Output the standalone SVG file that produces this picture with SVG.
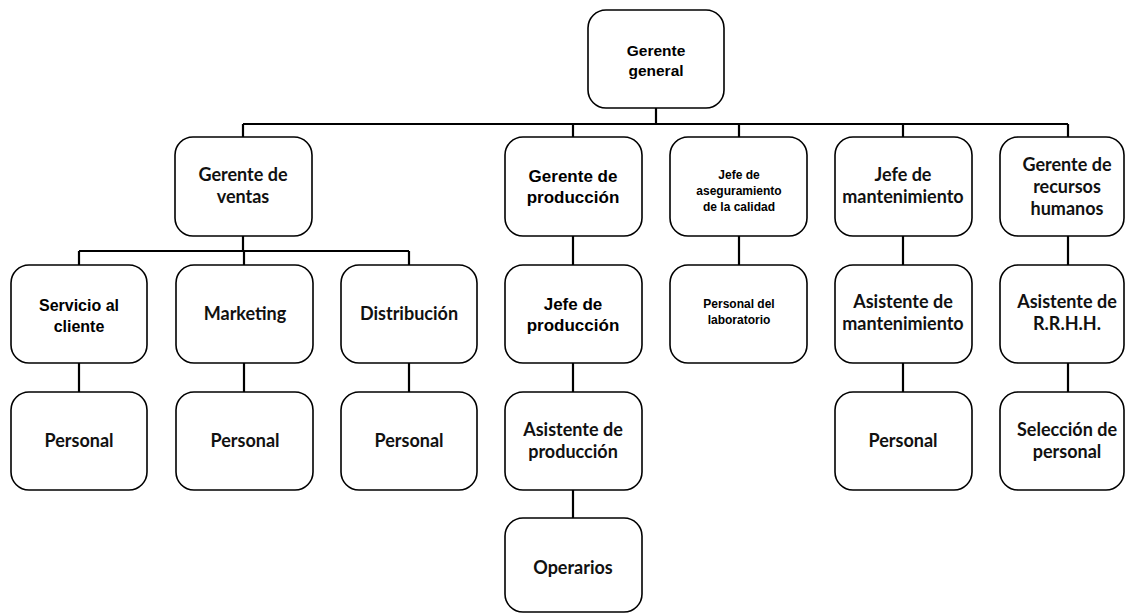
<svg xmlns="http://www.w3.org/2000/svg" width="1126" height="614" viewBox="0 0 1126 614">
  <style>
    .box { fill: #ffffff; stroke: #000000; stroke-width: 1.6; }
    .line { fill: none; stroke: #000000; stroke-width: 2.2; }
    .a { font-family: "Liberation Sans", Arial, sans-serif; font-weight: bold; fill: #000; text-anchor: middle; }
    .c { font-family: Lato, "Open Sans", sans-serif; font-weight: bold; fill: #111; text-anchor: middle; font-size: 18px; }
  </style>
  <rect width="1126" height="614" fill="#ffffff"/>

  <g id="connectors">
    <path class="line" d="M656 108 V124 M243 124 H1068 M243 124 V137 M573 124 V137 M739 124 V137 M903 124 V137 M1068 124 V137"/>
    <path class="line" d="M243 236 V251 M79 251 H409 M79 251 V265 M244 251 V265 M409 251 V265"/>
    <path class="line" d="M79 363 V392 M244 363 V392 M409 363 V392"/>
    <path class="line" d="M573 236 V265 M573 363 V392 M573 490 V518"/>
    <path class="line" d="M739 236 V265"/>
    <path class="line" d="M903 236 V265 M903 363 V392"/>
    <path class="line" d="M1068 236 V265 M1068 363 V392"/>
  </g>

  <g id="gerente-general">
    <rect class="box" x="588" y="10" width="136" height="98" rx="18"/>
    <text class="a" font-size="15.5" x="656" y="56">Gerente</text>
    <text class="a" font-size="15.5" x="656" y="76">general</text>
  </g>

  <g id="gerente-ventas">
    <rect class="box" x="175" y="137" width="137" height="99" rx="18"/>
    <text class="c" x="243" y="181">Gerente de</text>
    <text class="c" x="243" y="203">ventas</text>
  </g>

  <g id="gerente-produccion">
    <rect class="box" x="505" y="137" width="137" height="99" rx="18"/>
    <text class="a" font-size="17" x="573" y="182">Gerente de</text>
    <text class="a" font-size="17" x="573" y="203">producción</text>
  </g>

  <g id="jefe-calidad">
    <rect class="box" x="670" y="137" width="137" height="99" rx="18"/>
    <text class="a" font-size="12" x="739" y="179">Jefe de</text>
    <text class="a" font-size="12" x="739" y="195">aseguramiento</text>
    <text class="a" font-size="12" x="739" y="211">de la calidad</text>
  </g>

  <g id="jefe-mantenimiento">
    <rect class="box" x="835" y="137" width="137" height="99" rx="18"/>
    <text class="c" x="903" y="181">Jefe de</text>
    <text class="c" x="903" y="203">mantenimiento</text>
  </g>

  <g id="gerente-rrhh">
    <rect class="box" x="1000" y="137" width="124" height="99" rx="18"/>
    <text class="c" x="1067" y="171">Gerente de</text>
    <text class="c" x="1067" y="193">recursos</text>
    <text class="c" x="1067" y="215">humanos</text>
  </g>

  <g id="servicio-cliente">
    <rect class="box" x="11" y="265" width="136" height="98" rx="18"/>
    <text class="a" font-size="16" x="79" y="311">Servicio al</text>
    <text class="a" font-size="16" x="79" y="332">cliente</text>
  </g>

  <g id="marketing">
    <rect class="box" x="176" y="265" width="137" height="98" rx="18"/>
    <text class="c" x="245" y="320">Marketing</text>
  </g>

  <g id="distribucion">
    <rect class="box" x="341" y="265" width="136" height="98" rx="18"/>
    <text class="c" x="409" y="320">Distribución</text>
  </g>

  <g id="jefe-produccion">
    <rect class="box" x="505" y="265" width="137" height="98" rx="18"/>
    <text class="a" font-size="17" x="573" y="310">Jefe de</text>
    <text class="a" font-size="17" x="573" y="331">producción</text>
  </g>

  <g id="personal-laboratorio">
    <rect class="box" x="670" y="265" width="137" height="98" rx="18"/>
    <text class="a" font-size="12" x="739" y="308">Personal del</text>
    <text class="a" font-size="12" x="739" y="324">laboratorio</text>
  </g>

  <g id="asistente-mantenimiento">
    <rect class="box" x="835" y="265" width="137" height="98" rx="18"/>
    <text class="c" x="903" y="308">Asistente de</text>
    <text class="c" x="903" y="330">mantenimiento</text>
  </g>

  <g id="asistente-rrhh">
    <rect class="box" x="1000" y="265" width="124" height="98" rx="18"/>
    <text class="c" x="1067" y="308">Asistente de</text>
    <text class="c" x="1067" y="330">R.R.H.H.</text>
  </g>

  <g id="personal-servicio">
    <rect class="box" x="11" y="392" width="136" height="98" rx="18"/>
    <text class="c" x="79" y="447">Personal</text>
  </g>

  <g id="personal-marketing">
    <rect class="box" x="176" y="392" width="137" height="98" rx="18"/>
    <text class="c" x="245" y="447">Personal</text>
  </g>

  <g id="personal-distribucion">
    <rect class="box" x="341" y="392" width="136" height="98" rx="18"/>
    <text class="c" x="409" y="447">Personal</text>
  </g>

  <g id="asistente-produccion">
    <rect class="box" x="505" y="392" width="137" height="98" rx="18"/>
    <text class="c" x="573" y="436">Asistente de</text>
    <text class="c" x="573" y="458">producción</text>
  </g>

  <g id="personal-mantenimiento">
    <rect class="box" x="835" y="392" width="137" height="98" rx="18"/>
    <text class="c" x="903" y="447">Personal</text>
  </g>

  <g id="seleccion-personal">
    <rect class="box" x="1000" y="392" width="124" height="98" rx="18"/>
    <text class="c" x="1067" y="436">Selección de</text>
    <text class="c" x="1067" y="458">personal</text>
  </g>

  <g id="operarios">
    <rect class="box" x="505" y="518" width="137" height="94" rx="18"/>
    <text class="c" x="573" y="574">Operarios</text>
  </g>
</svg>
